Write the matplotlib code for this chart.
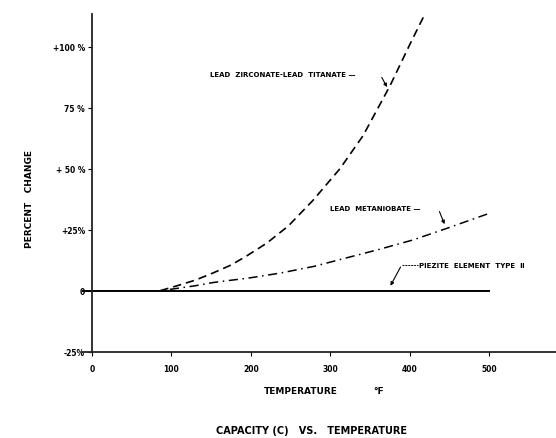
import matplotlib.pyplot as plt

# values (temperature in F, percent change)
pztTemp = [86, 105, 130, 152, 175, 195, 220, 247, 278, 312, 341, 375, 400, 419]
pztChange = [0.0, 1.8, 4.3, 7.2, 10.5, 14.3, 19.5, 26.5, 37.0, 50.0, 63.5, 84.0, 101.0, 113.5]

metaTemp = [98, 130, 152, 200, 237, 280, 321, 360, 404, 447, 499]
metaChange = [0.5, 2.0, 3.3, 5.3, 7.2, 10.0, 13.5, 16.8, 20.8, 25.6, 31.6]

piezTemp = [0, 500]
piezChange = [0, 0]

xTicks = [0, 100, 200, 300, 400, 500]
yTicks = [-25, 0, 25, 50, 75, 100]
yTickLabels = ["-25%", "0", "+25%", "+ 50 %", "75 %", "+100 %"]

fig = plt.figure(figsize=(5.56, 4.39), dpi=100)
ax = fig.add_axes([82 / 556, 1 - 355 / 439, 474 / 556, 340 / 439])
ax.set_xlim(-12.6, 584)
ax.set_ylim(-26, 113.5)

# axes drawn like the original sheet
ax.spines['top'].set_visible(False)
ax.spines['right'].set_visible(False)
ax.spines['left'].set_position(('data', 0))
ax.spines['left'].set_bounds(-25, 113.5)
ax.spines['bottom'].set_position(('data', -25))
for s in ['left', 'bottom']:
    ax.spines[s].set_linewidth(1.3)
    ax.spines[s].set_color('#222222')

ax.set_xticks(xTicks)
ax.set_xticklabels([str(t) for t in xTicks], fontsize=5.5, fontweight='bold')
ax.set_yticks(yTicks)
ax.set_yticklabels(yTickLabels, fontsize=5.5, fontweight='bold')
ax.tick_params(axis='x', direction='out', length=3, width=0.8, pad=6)
ax.tick_params(axis='y', direction='out', length=3, width=0.8, pad=2)

ax.plot(pztTemp, pztChange, color='black', linestyle=(0, (5, 3)), linewidth=1.2)
ax.plot(metaTemp, metaChange, color='black', linestyle=(0, (6, 3, 1, 3)), linewidth=1.1)
ax.plot(piezTemp, piezChange, color='black', linewidth=1.4)
ax.hlines(0, -12.6, 0, color='black', linewidth=1.4)

txtKw = dict(fontsize=5, fontweight='bold', va='center', ha='left')
arrowKw = dict(arrowstyle='-|>', color='black', linewidth=0.8, mutation_scale=5)

ax.text(149, 89, "LEAD  ZIRCONATE-LEAD  TITANATE \u2014", **txtKw)
ax.annotate("", xy=(373, 82.5), xytext=(363, 88.5), arrowprops=arrowKw)

ax.text(300, 34, "LEAD  METANIOBATE \u2014", **txtKw)
ax.annotate("", xy=(445, 26.2), xytext=(436, 33.5), arrowprops=arrowKw)

ax.text(411, 10.7, "PIEZITE  ELEMENT  TYPE  \u2161", **txtKw)
ax.plot([390, 410], [10.7, 10.7], color='black', linewidth=0.7, linestyle=(0, (2, 1)))
ax.annotate("", xy=(374, 1.0), xytext=(390, 10.7), arrowprops=arrowKw)

fig.text(30 / 556, 1 - 199 / 439, "PERCENT   CHANGE", rotation=90, fontsize=6.5,
         fontweight='bold', ha='center', va='center')
fig.text(301 / 556, 1 - 392 / 439, "TEMPERATURE", fontsize=6.5, fontweight='bold',
         ha='center', va='center')
fig.text(379 / 556, 1 - 392 / 439, "\u00b0F", fontsize=6.5, fontweight='bold',
         ha='center', va='center')
fig.text(311 / 556, 1 - 431 / 439, "CAPACITY (C)   VS.   TEMPERATURE", fontsize=7,
         fontweight='bold', ha='center', va='center')

plt.savefig("out.png", dpi=100)
plt.close()
